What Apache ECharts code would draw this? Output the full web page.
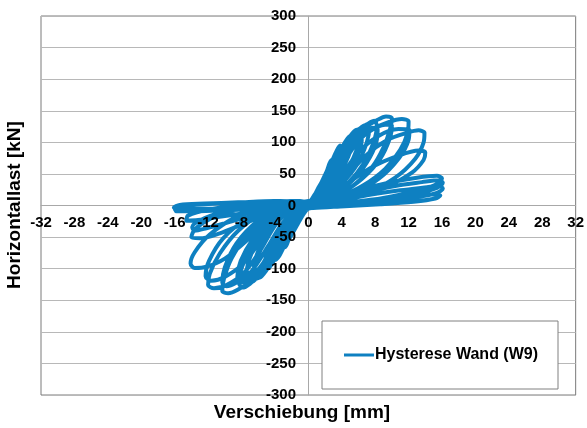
<!DOCTYPE html>
<html><head><meta charset="utf-8">
<script src="https://cdn.jsdelivr.net/npm/echarts@6/dist/echarts.min.js"></script>
<style>html,body{margin:0;padding:0;background:#fff}#c{width:587px;height:428px}</style>
</head><body><div id="c"></div>
<script>
// Hysteresis cycles: [displacement mm, force kN]
const cycle01 = [[0,0],[0.5,12],[1,22],[1.5,30],[1.2,20],[0.5,6],[0,-2],[-0.5,-12],[-1,-21],[-1.5,-29],[-1.2,-18],[-0.5,-5],[0,2]];
const cycle02 = [[0.5,10],[1.2,28],[1.9,44],[2.3,54],[2.6,50],[2.2,36],[1.4,18],[0.5,2],[0,-4],[-0.6,-14],[-1.3,-30],[-1.9,-44],[-2.3,-52],[-2.6,-48],[-2.2,-32],[-1.4,-14],[-0.5,0],[0,4]];
const cycle03 = [[0.6,12],[1.4,32],[2.2,54],[2.8,72],[3.2,72],[2.9,54],[2.1,32],[1.2,12],[0.3,0],[-0.6,-10],[-1.4,-28],[-2.2,-48],[-2.8,-66],[-3.2,-64],[-2.9,-46],[-2,-24],[-1,-6],[0,5]];
const cycle04 = [[0.6,10],[1.5,32],[2.5,60],[3.3,84],[3.8,95],[4.1,88],[3.8,70],[2.9,45],[1.8,22],[0.7,5],[0,-4],[-0.8,-16],[-1.8,-38],[-2.8,-62],[-3.5,-80],[-4,-86],[-4.2,-78],[-3.8,-60],[-3,-35],[-1.8,-12],[-0.7,2],[0,6]];
const cycle05 = [[0.8,12],[1.8,35],[2.8,62],[3.6,82],[4.2,84],[3.9,64],[2.8,34],[1.6,14],[0.5,0],[-0.5,-8],[-1.6,-28],[-2.7,-52],[-3.6,-72],[-4.2,-78],[-4,-58],[-3,-28],[-1.6,-6],[0,5]];
const cycle06 = [[1,12],[2,38],[3.2,72],[4.3,98],[5,110],[5.3,102],[4.8,78],[3.6,46],[2.2,20],[0.8,2],[-0.4,-6],[-1.6,-24],[-2.8,-52],[-4,-84],[-4.9,-100],[-5.3,-98],[-4.9,-74],[-3.8,-42],[-2.2,-14],[-0.6,4],[0,6]];
const cycle07 = [[1,12],[2.2,42],[3.5,78],[4.8,106],[5.8,120],[6.3,116],[5.9,92],[4.8,60],[3.3,32],[1.8,12],[0.5,-2],[-0.6,-10],[-1.8,-28],[-3.1,-58],[-4.5,-92],[-5.6,-112],[-6.3,-116],[-6.5,-106],[-6.1,-84],[-5,-50],[-3.4,-22],[-1.8,-4],[-0.5,4],[0,6]];
const cycle08 = [[1.2,14],[2.5,42],[3.9,76],[5,98],[6,110],[6.4,104],[5.9,80],[4.7,48],[3,22],[1.5,6],[0,-3],[-1.5,-16],[-2.8,-44],[-4.3,-80],[-5.5,-100],[-6.3,-106],[-6.5,-96],[-6,-72],[-4.8,-40],[-3,-14],[-1.2,2],[0,6]];
const cycle09 = [[1.2,12],[2.5,44],[4,86],[5.6,114],[6.8,127],[7.3,124],[7,100],[5.8,64],[4,34],[2.2,12],[0.6,-1],[-1,-8],[-2.4,-30],[-3.8,-68],[-5.4,-104],[-6.6,-120],[-7.3,-122],[-7.4,-108],[-6.8,-76],[-5.2,-38],[-3.2,-12],[-1,3],[0,6]];
const cycle10 = [[1.2,12],[2.6,45],[4.1,90],[5.8,118],[7.2,130],[7.9,134],[8.2,126],[7.8,100],[6.6,66],[4.8,36],[2.8,15],[1,2],[0,-4],[-1.5,-12],[-2.8,-36],[-4.2,-76],[-5.8,-108],[-7,-124],[-7.9,-130],[-8.3,-122],[-7.9,-96],[-6.6,-60],[-4.8,-28],[-2.8,-8],[-1,4],[0,7]];
const cycle11 = [[1.4,12],[3,48],[4.6,86],[6.3,110],[7.7,123],[8.3,120],[8,94],[6.5,58],[4.5,30],[2.5,12],[0.8,0],[-0.8,-8],[-2.5,-26],[-4,-62],[-5.8,-98],[-7.2,-116],[-8.1,-122],[-8.5,-114],[-8.1,-88],[-6.6,-52],[-4.5,-20],[-2.4,-3],[0,6]];
const cycle12 = [[1.4,10],[3,46],[4.6,92],[6.4,120],[8.2,135],[9.3,141],[10,138],[9.8,122],[9,92],[7.6,60],[5.6,34],[3.4,15],[1.4,3],[0,-4],[-2,-12],[-3.4,-38],[-5,-82],[-6.8,-118],[-8.4,-133],[-9.6,-139],[-10.3,-135],[-10.1,-116],[-9.2,-84],[-7.4,-48],[-5,-20],[-2.6,-4],[-0.8,5],[0,7]];
const cycle13 = [[1.6,10],[3.4,48],[5.2,90],[7.2,116],[9.2,128],[10,127],[9.8,108],[8.6,74],[6.4,42],[3.8,18],[1.2,1],[-1.2,-8],[-3,-26],[-4.8,-64],[-6.8,-104],[-8.6,-122],[-9.8,-128],[-10.3,-122],[-10,-98],[-8.6,-60],[-6,-24],[-3.2,-4],[0,6]];
const cycle14 = [[1.6,10],[3.4,45],[5.2,88],[7.3,118],[9.6,132],[11.2,137],[12,133],[11.9,116],[11,88],[9.2,58],[6.6,32],[3.8,14],[1.2,2],[0,-4],[-2.4,-10],[-4,-32],[-5.8,-72],[-7.8,-108],[-9.8,-126],[-11.3,-131],[-12,-126],[-11.8,-108],[-10.6,-76],[-8.4,-40],[-5.4,-12],[-2.4,2],[0,6]];
const cycle15 = [[1.8,10],[3.8,44],[6,84],[8.4,110],[10.8,121],[12.1,120],[12,104],[10.8,74],[8.4,42],[5.2,18],[1.8,2],[-1.6,-6],[-3.6,-20],[-5.6,-54],[-7.8,-92],[-10,-113],[-11.6,-119],[-12.3,-112],[-11.9,-88],[-10.2,-52],[-7.2,-20],[-3.8,-2],[0,6]];
const cycle16 = [[2,10],[4.2,40],[6.8,78],[9.5,104],[11.8,115],[13.2,119],[13.9,115],[13.8,100],[12.8,74],[10.4,44],[7,20],[3.4,5],[0,-5],[-3,-8],[-5,-24],[-7.4,-56],[-10,-84],[-12.2,-97],[-13.6,-99],[-14.1,-92],[-13.6,-74],[-11.8,-46],[-8.6,-18],[-5,-2],[-1.8,6],[0,6]];
const cycle17 = [[2.2,10],[4.8,36],[7.8,62],[10.8,79],[13.2,87],[14,84],[13.8,72],[12.4,52],[9.4,30],[5.8,13],[2.2,1],[-1,-5],[-4.4,-12],[-7.6,-28],[-10.6,-44],[-13,-52],[-14,-50],[-13.6,-38],[-11.6,-20],[-8.4,-6],[-5,3],[-1.8,7],[0,6]];
const cycle18 = [[2.6,8],[6,24],[9.6,36],[13,44],[15.4,47],[16,43],[15.4,34],[13.2,24],[9.8,14],[5.8,5],[2,-2],[-2,-4],[-5.6,-12],[-9.4,-26],[-12.2,-36],[-13.6,-40],[-13.9,-34],[-12.4,-20],[-9,-6],[-5,4],[-1.4,7],[0,5]];
const cycle19 = [[3,7],[6.6,20],[10.4,31],[13.6,37],[15.6,40],[16.1,36],[15.4,28],[12.8,18],[9,9],[5,2],[1.2,-3],[-2.6,-4],[-6.4,-10],[-10.2,-17],[-13.2,-23],[-14.6,-24],[-14.4,-16],[-11.8,-6],[-8,1],[-4.2,6],[-1,7],[0,5]];
const cycle20 = [[3,6],[7,16],[11,24],[14.2,29],[15.6,31],[16.1,27],[15.4,20],[13,13],[9,6],[5,1],[1,-3],[-3,-4],[-7,-6],[-11,-8],[-14,-9],[-15.8,-9],[-16,-4],[-14.6,0],[-11,3],[-7,5],[-3.4,7],[0,5]];
const cycle21 = [[3.6,4],[8,10],[12,15],[14.8,18],[15.8,16],[15.2,11],[12.6,6],[8.6,2],[4.4,-1],[0.6,-4],[-3.4,-5],[-7.6,-5],[-11.8,-5],[-15.2,-5],[-16.1,-3],[-15.4,1],[-12.4,3],[-8.4,5],[-4,7],[0,4]];

const cycles = [cycle01,cycle02,cycle03,cycle04,cycle05,cycle06,cycle07,cycle08,cycle09,cycle10,cycle11,cycle12,cycle13,cycle14,cycle15,cycle16,cycle17,cycle18,cycle19,cycle20,cycle21];
const seriesName = 'Hysterese Wand (W9)';
const xName = 'Verschiebung [mm]';
const yName = 'Horizontallast [kN]';
const xRange = [-32, 32, 4];
const yRange = [-300, 300, 50];

const data = [].concat(...cycles);
const FONT = '"Liberation Sans", Arial, sans-serif';
const BLUE = '#0e80c1';

const W = 587, H = 428;
const G = {left: 41, right: 10, top: 16, bottom: 33};
const gw = W - G.left - G.right, gh = H - G.top - G.bottom;
// label axes placed on the zero lines (axes cross at the origin)
const yLabelOffset = -gw * (0 - xRange[0]) / (xRange[1] - xRange[0]);
const xLabelOffset = -gh * (0 - yRange[0]) / (yRange[1] - yRange[0]);

const chart = echarts.init(document.getElementById('c'), null, {renderer: 'canvas'});
const baseX = {type: 'value', min: xRange[0], max: xRange[1], interval: xRange[2]};
const baseY = {type: 'value', min: yRange[0], max: yRange[1], interval: yRange[2]};
chart.setOption({
  animation: false,
  backgroundColor: '#fff',
  grid: Object.assign({show: true, borderColor: '#7a7a7a', borderWidth: 1, backgroundColor: '#fff'}, G),
  xAxis: [
    Object.assign({}, baseX, {
      axisLine: {show: true, onZero: true, lineStyle: {color: '#a8a8a8', width: 1}},
      axisTick: {show: false}, axisLabel: {show: false}, splitLine: {show: false}
    }),
    Object.assign({}, baseX, {
      position: 'bottom', offset: xLabelOffset, z: 5,
      axisLine: {show: false, onZero: false},
      axisTick: {show: false}, splitLine: {show: false},
      axisLabel: {show: true, margin: 10, color: '#000', fontWeight: 'bold', fontSize: 15, fontFamily: FONT, showMinLabel: true, showMaxLabel: true}
    })
  ],
  yAxis: [
    Object.assign({}, baseY, {
      axisLine: {show: true, onZero: true, lineStyle: {color: '#a8a8a8', width: 1}},
      axisTick: {show: false}, axisLabel: {show: false},
      splitLine: {show: true, lineStyle: {color: '#b8b8b8', width: 1}}
    }),
    Object.assign({}, baseY, {
      position: 'left', offset: yLabelOffset, z: 5,
      axisLine: {show: false, onZero: false},
      axisTick: {show: false}, splitLine: {show: false},
      axisLabel: {show: true, margin: 13, color: '#000', fontWeight: 'bold', fontSize: 15, fontFamily: FONT, showMinLabel: true, showMaxLabel: true}
    })
  ],
  legend: {
    show: true, left: 322, top: 321, orient: 'horizontal',
    padding: [26, 20, 26, 22],
    backgroundColor: '#fff', borderColor: '#808080', borderWidth: 1, borderRadius: 0,
    icon: 'rect', itemWidth: 30, itemHeight: 3, itemGap: 0,
    textStyle: {color: '#000', fontWeight: 'bold', fontSize: 16, fontFamily: FONT, padding: [0,0,0,-4]},
    data: [seriesName]
  },
  graphic: [
    {type: 'text', x: 302, y: 413, style: {text: xName, font: 'bold 19px ' + FONT, fill: '#000', textAlign: 'center', textVerticalAlign: 'middle'}},
    {type: 'text', x: 15, y: 205, rotation: Math.PI / 2, style: {text: yName, font: 'bold 19px ' + FONT, fill: '#000', textAlign: 'center', textVerticalAlign: 'middle'}}
  ],
  series: [{
    name: seriesName, type: 'line', xAxisIndex: 0, yAxisIndex: 0,
    data: data, showSymbol: false, symbol: 'none', smooth: 0.3,
    lineStyle: {color: BLUE, width: 4, join: 'round', cap: 'round'},
    itemStyle: {color: BLUE}
  }]
});
</script></body></html>
